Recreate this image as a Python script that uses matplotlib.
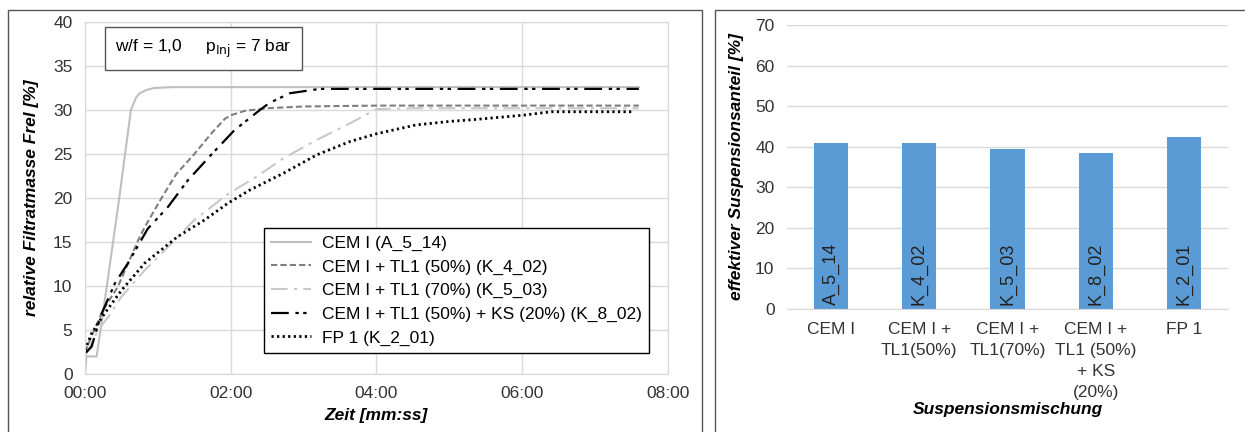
import matplotlib
matplotlib.use("Agg")
import matplotlib.pyplot as plt
from matplotlib.patches import Rectangle
from matplotlib.ticker import FuncFormatter

plt.rcParams['font.family'] = ['Liberation Sans', 'DejaVu Sans']

# ---- left chart: filtrate mass over time (time in minutes) ----
t_a514 = [0, 0.02, 0.05, 0.16, 0.30, 0.47, 0.55, 0.63, 0.70, 0.75, 0.85, 0.95, 1.2, 1.5, 7.6]
f_a514 = [0, 2.0, 2.0, 2.0, 10.0, 20.0, 25.0, 30.0, 31.4, 31.9, 32.3, 32.5, 32.6, 32.6, 32.6]

t_k402 = [0, 0.1, 0.25, 0.45, 0.73, 0.82, 1.05, 1.25, 1.50, 1.74, 1.92, 2.0, 2.19, 2.5, 3.0, 4.0, 7.6]
f_k402 = [2.5, 4.5, 7.3, 9.9, 15.2, 16.7, 20.0, 22.7, 25.0, 27.4, 29.0, 29.4, 29.9, 30.2, 30.4, 30.5, 30.5]

t_k503 = [0, 0.18, 0.32, 0.50, 0.82, 1.23, 1.50, 1.97, 2.35, 2.72, 3.18, 3.64, 4.0, 4.5, 7.6]
f_k503 = [2.0, 5.0, 6.5, 8.8, 11.8, 15.2, 17.5, 20.5, 22.4, 24.5, 26.6, 28.5, 30.1, 30.2, 30.2]

t_k802 = [0, 0.02, 0.09, 0.22, 0.41, 0.59, 0.86, 1.14, 1.41, 1.73, 2.05, 2.40, 2.53, 2.81, 3.22, 7.6]
f_k802 = [2.5, 2.5, 3.1, 6.7, 10.3, 12.6, 16.5, 19.0, 22.0, 24.9, 27.7, 30.0, 30.8, 31.9, 32.4, 32.4]

t_k201 = [0, 0.09, 0.27, 0.50, 0.82, 1.27, 1.64, 1.96, 2.26, 2.72, 3.18, 3.63, 4.0, 4.54, 5.0, 5.32, 6.0, 6.4, 7.5]
f_k201 = [2.7, 4.6, 6.9, 9.5, 12.6, 15.6, 17.5, 19.4, 20.9, 22.8, 24.9, 26.4, 27.3, 28.3, 28.7, 28.9, 29.4, 29.8, 29.8]

legend_labels = ["CEM I (A_5_14)", "CEM I + TL1 (50%) (K_4_02)", "CEM I + TL1 (70%) (K_5_03)",
                 "CEM I + TL1 (50%) + KS (20%) (K_8_02)", "FP 1 (K_2_01)"]

# ---- right chart: effective suspension share ----
mixes = ["CEM I", "CEM I +\nTL1(50%)", "CEM I +\nTL1(70%)", "CEM I +\nTL1 (50%)\n+ KS\n(20%)", "FP 1"]
sample_ids = ["A_5_14", "K_4_02", "K_5_03", "K_8_02", "K_2_01"]
share = [41.0, 41.0, 39.5, 38.5, 42.5]

fig = plt.figure(figsize=(12.45, 4.32), dpi=100)

# panel frames
fig.patches.append(Rectangle((8 / 1245, -0.05), 694 / 1245, 1.05 - 10 / 432, transform=fig.transFigure,
                             fill=False, edgecolor='#555555', lw=1.0))
fig.patches.append(Rectangle((715 / 1245, -0.05), 540 / 1245, 1.05 - 10 / 432, transform=fig.transFigure,
                             fill=False, edgecolor='#555555', lw=1.0))

grid_c = '#d9d9d9'
fs = 12.5

ax = fig.add_axes([85 / 1245, 1 - 374 / 432, 583 / 1245, 352 / 432])
ax.plot(t_a514, f_a514, color='#bfbfbf', lw=1.5, label=legend_labels[0])
ax.plot(t_k402, f_k402, color='#7f7f7f', lw=1.5, dashes=(3, 1.5), label=legend_labels[1])
ax.plot(t_k503, f_k503, color='#c8c8c8', lw=1.5, dashes=(8, 3, 1.5, 3), label=legend_labels[2])
ax.plot(t_k802, f_k802, color='black', lw=1.6, dashes=(8, 3, 1.5, 2, 1.5, 3), label=legend_labels[3])
ax.plot(t_k201, f_k201, color='black', lw=2.0, dashes=(0.8, 1.2), label=legend_labels[4])
ax.set_xlim(0, 8)
ax.set_ylim(0, 40)
ax.set_xticks([0, 2, 4, 6, 8])
ax.set_yticks(range(0, 41, 5))
ax.xaxis.set_major_formatter(FuncFormatter(lambda v, p: "%02d:00" % int(v)))
ax.grid(True, color=grid_c, lw=1.0)
ax.set_axisbelow(True)
for s in ax.spines.values():
    s.set_color(grid_c)
ax.tick_params(length=0, labelsize=fs, colors='#333333', pad=9)
ax.set_xlabel("Zeit [mm:ss]", fontsize=fs, fontweight='bold', style='italic', labelpad=5)
ax.set_ylabel("relative Filtratmasse Frel [%]", fontsize=fs, fontweight='bold', style='italic', labelpad=10)
leg = ax.legend(loc='lower right', bbox_to_anchor=(0.983, 0.034), fontsize=fs, frameon=True, fancybox=False,
                handlelength=2.3, handletextpad=0.6, borderpad=0.45, labelspacing=0.48, framealpha=1)
leg.get_frame().set_edgecolor('black')
leg.get_frame().set_linewidth(1.0)
ax.text(0.052, 0.955, r"w/f = 1,0     p$_{\mathrm{Inj}}$ = 7 bar", transform=ax.transAxes, fontsize=fs,
        va='top', ha='left',
        bbox=dict(boxstyle='square,pad=0.6', facecolor='white', edgecolor='#555555', lw=1.0))

# right chart
ax2 = fig.add_axes([787 / 1245, 1 - 309 / 432, 441 / 1245, 284 / 432])
xpos = range(len(mixes))
ax2.bar(xpos, share, width=0.39, color='#5b9bd5', zorder=2)
for x, lab in zip(xpos, sample_ids):
    ax2.text(x, 1.0, lab, rotation=90, ha='center', va='bottom', fontsize=fs + 0.5, color='#222222', zorder=3)
ax2.set_xlim(-0.5, 4.5)
ax2.set_ylim(0, 70)
ax2.set_yticks(range(0, 71, 10))
ax2.set_xticks(list(xpos))
ax2.set_xticklabels(mixes, fontsize=fs, linespacing=1.5)
ax2.yaxis.grid(True, color=grid_c, lw=1.0)
ax2.set_axisbelow(True)
for k in ['left', 'right', 'top']:
    ax2.spines[k].set_visible(False)
ax2.spines['bottom'].set_color(grid_c)
ax2.tick_params(length=0, labelsize=fs, colors='#333333', pad=9)
ax2.set_ylabel("effektiver Suspensionsanteil [%]", fontsize=fs, fontweight='bold', style='italic', labelpad=8)
ax2.set_xlabel("Suspensionsmischung", fontsize=fs, fontweight='bold', style='italic', labelpad=2)

fig.savefig("out.png", dpi=100)
